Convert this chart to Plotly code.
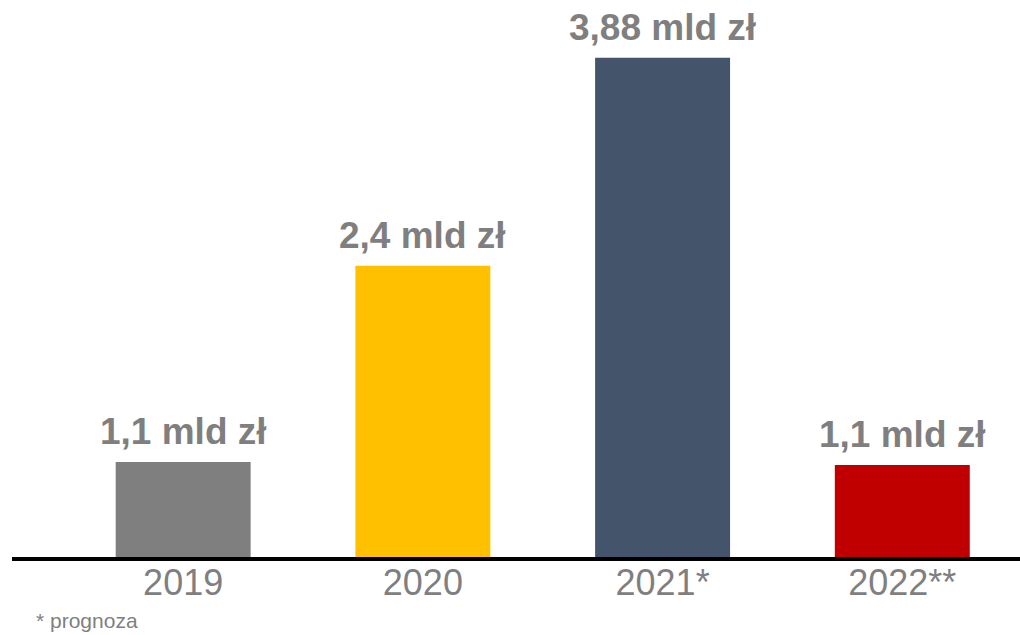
import plotly.graph_objects as go

# Data
categories = ["2019", "2020", "2021*", "2022**"]
amounts_mld = [1.1, 2.4, 3.88, 1.1]          # values printed above the bars (mld zł)
bar_heights = [0.738, 2.264, 3.88, 0.715]    # bar heights as drawn (same scale as 3.88)
bar_colors = ["#7f7f7f", "#ffc000", "#44546a", "#c00000"]
footnote = "* prognoza"

labels = [f"{str(v).replace('.', ',')} mld zł" for v in amounts_mld]

FONT = "Liberation Sans, Arial, sans-serif"

fig = go.Figure()
fig.add_trace(go.Bar(
    x=categories,
    y=bar_heights,
    marker=dict(color=bar_colors, line=dict(width=0)),
    width=0.563,
    hoverinfo="skip",
))

for i, (h, lab) in enumerate(zip(bar_heights, labels)):
    fig.add_annotation(
        x=i, y=h, text=f"<b>{lab}</b>", showarrow=False,
        xref="x", yref="y", yanchor="bottom", xanchor="center", yshift=8,
        font=dict(family=FONT, size=37, color="#7f7f7f"),
    )

fig.add_annotation(
    x=(34 - 12) / (1020 - 12), y=-(635 - 557 - 1) / (557 - 20),
    xref="paper", yref="paper", text=footnote, showarrow=False,
    xanchor="left", yanchor="bottom",
    font=dict(family=FONT, size=21, color="#7f7f7f"),
)

fig.update_layout(
    width=1020, height=635,
    margin=dict(l=12, r=0, t=20, b=78),
    paper_bgcolor="white", plot_bgcolor="white",
    showlegend=False,
    xaxis=dict(
        type="category",
        range=[-0.714, 3.491],
        showline=True, linecolor="black", linewidth=4,
        showgrid=False, zeroline=False, ticks="",
        tickfont=dict(family=FONT, size=36, color="#7f7f7f"),
        ticklabelstandoff=-9,
    ),
    yaxis=dict(
        range=[0, 4.173], visible=False, showgrid=False, zeroline=False,
    ),
)

fig.write_html(
    "out.html",
    config={"displayModeBar": False},
    post_script="document.body.style.margin='0';document.body.style.overflow='hidden';",
)
